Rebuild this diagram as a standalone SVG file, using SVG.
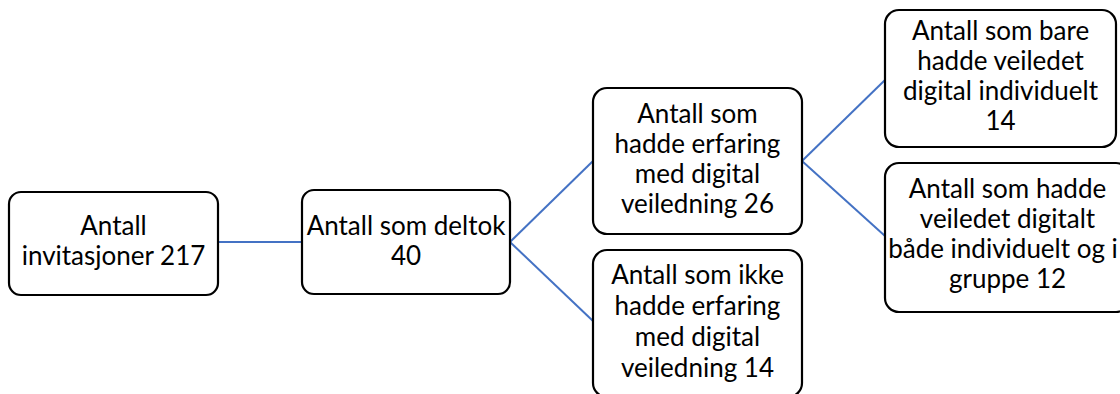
<svg xmlns="http://www.w3.org/2000/svg" width="1120" height="394" viewBox="0 0 1120 394">
<style>
.box{fill:#fff;stroke:#000;stroke-width:2.2}
.t{font-family:Lato,"Liberation Sans",sans-serif;font-size:26px;fill:#000;text-anchor:middle}
.c{stroke:#4472C4;stroke-width:2;fill:none}
</style>
<rect width="1120" height="394" fill="#fff"/>
<g id="connectors">
<line class="c" x1="218" y1="242" x2="302" y2="242"/>
<line class="c" x1="510" y1="242" x2="593" y2="161"/>
<line class="c" x1="510" y1="242" x2="593" y2="321"/>
<line class="c" x1="802" y1="161" x2="885" y2="80"/>
<line class="c" x1="802" y1="161" x2="885" y2="236"/>
</g>
<g id="n1">
<rect class="box" x="9" y="192" width="209" height="103" rx="12"/>
<text class="t" x="113.5" y="235">Antall</text>
<text class="t" x="113.5" y="265">invitasjoner 217</text>
</g>
<g id="n2">
<rect class="box" x="302" y="190" width="208" height="104" rx="12"/>
<text class="t" x="406" y="235">Antall som deltok</text>
<text class="t" x="406" y="265">40</text>
</g>
<g id="n3">
<rect class="box" x="593" y="88" width="209" height="146" rx="14"/>
<text class="t" x="697.5" y="123">Antall som</text>
<text class="t" x="697.5" y="153">hadde erfaring</text>
<text class="t" x="697.5" y="183">med digital</text>
<text class="t" x="697.5" y="213">veiledning 26</text>
</g>
<g id="n4">
<rect class="box" x="593" y="250" width="209" height="147" rx="14"/>
<text class="t" x="697.5" y="284">Antall som ikke</text>
<text class="t" x="697.5" y="315">hadde erfaring</text>
<text class="t" x="697.5" y="346">med digital</text>
<text class="t" x="697.5" y="377">veiledning 14</text>
</g>
<g id="n5">
<rect class="box" x="885" y="10" width="231" height="137" rx="14"/>
<text class="t" x="1000.5" y="40">Antall som bare</text>
<text class="t" x="1000.5" y="70">hadde veiledet</text>
<text class="t" x="1000.5" y="100">digital individuelt</text>
<text class="t" x="1000.5" y="130">14</text>
</g>
<g id="n6">
<rect class="box" x="885" y="163" width="245" height="149" rx="14"/>
<text class="t" x="1007.5" y="198">Antall som hadde</text>
<text class="t" x="1007.5" y="228">veiledet digitalt</text>
<text class="t" x="1003" y="258">både individuelt og i</text>
<text class="t" x="1007.5" y="288">gruppe 12</text>
</g>
</svg>
